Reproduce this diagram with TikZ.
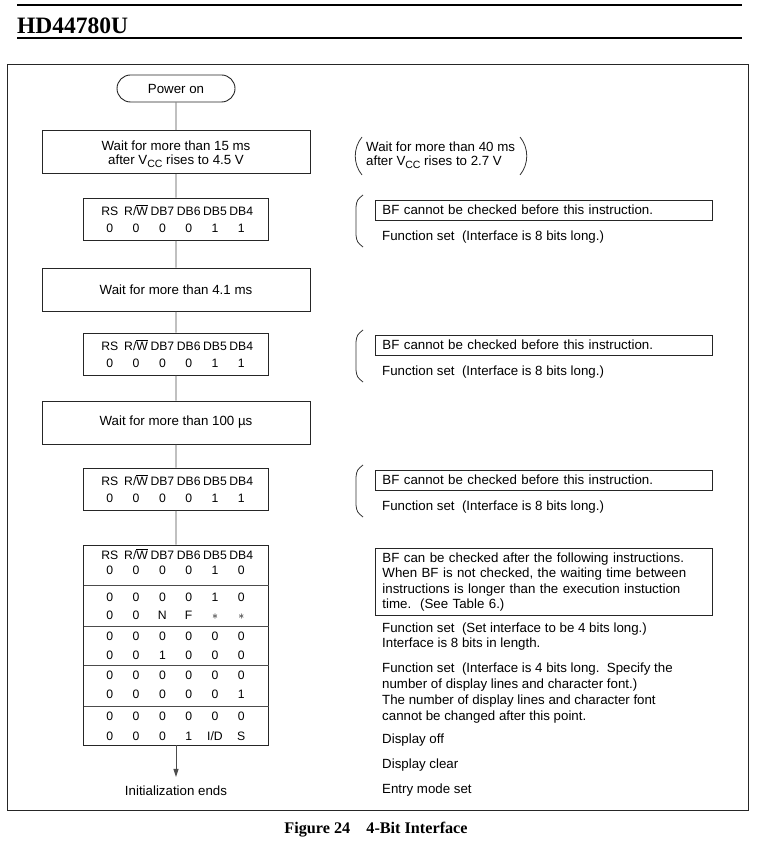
\documentclass[tikz,border=0pt]{standalone}
\usepackage{fontspec}
\setmainfont{Liberation Sans}
\newfontfamily\headfont{Liberation Serif}
\usetikzlibrary{arrows.meta}
\usetikzlibrary{shapes.misc}

\newcommand{\vcc}{V\raisebox{-3pt}{\fontsize{10.5}{10.5}\selectfont CC}}

\begin{document}
\begin{tikzpicture}[x=1pt, y=-1pt,
    txt/.style={font=\fontsize{13.3}{15.6}\selectfont, inner sep=0pt},
    cell/.style={font=\fontsize{12.2}{14}\selectfont, inner sep=0pt, text height=8.8pt, text depth=0pt},
    wbox/.style={draw=black!85, line width=0.9pt, minimum width=268pt, minimum height=43pt, txt, align=center},
    fbox/.style={draw=black!85, line width=0.9pt, minimum width=185pt, minimum height=42pt},
    note/.style={draw=black!85, line width=0.9pt, anchor=west, minimum width=337pt, minimum height=20pt, txt, inner xsep=7pt, text width=323pt, align=left},
    flow/.style={draw=black!70, line width=0.9pt},
    brk/.style={draw=black!80, line width=0.8pt}]
  \useasboundingbox (0,0) rectangle (760,866);

  % page head
  \draw[line width=2.5pt] (17,5) -- (742,5);
  \node[anchor=base west, inner sep=0pt, font=\headfont\bfseries\fontsize{23.5}{24}\selectfont] (head) at (17,34) {HD44780U};
  \draw[line width=2.5pt] (17,38) -- (742,38);
  \draw[black!85, line width=1pt] (7,65) rectangle (748,810);

  % flow
  \node[rounded rectangle, draw=black!85, line width=0.9pt, minimum width=118pt, minimum height=27pt, txt] (on) at (176,88.5) {Power on};
  \node[wbox] (w1) at (176,152) {};
  \node[txt] at (176,146) {Wait for more than 15 ms};
  \node[txt, anchor=base] at (176,164.5) {after \vcc\ rises to 4.5 V};
  \node[fbox] (f1) at (176,219) {};
  \node[wbox] (w2) at (176,289.5) {Wait for more than 4.1 ms};
  \node[fbox] (f2) at (176,354) {};
  \node[wbox] (w3) at (176,422.5) {Wait for more than 100 µs};
  \node[fbox] (f3) at (176,489) {};
  \node[fbox, minimum height=200pt] (tab) at (176,645) {};
  \node[txt] (end) at (176,791) {Initialization ends};

  \draw[flow] (on) -- (w1) -- (f1) -- (w2) -- (f2) -- (w3) -- (f3) -- (tab);
  \draw[flow, -{Triangle[length=8pt, width=5pt]}, shorten >=9pt] (tab) -- (end);

  % bit tables
  \foreach \y in {211,346,481,555} {
    \foreach \h [count=\i] in {RS, R/$\overline{\hbox{W}}$, DB7, DB6, DB5, DB4}
      \node[cell] at ({83.5+26.3*\i},\y) {\h};
  }
  \foreach \y/\row in {228/{0,0,0,0,1,1}, 363/{0,0,0,0,1,1}, 498/{0,0,0,0,1,1},
      570/{0,0,0,0,1,0}, 597/{0,0,0,0,1,0}, 615/{0,0,N,F,$\ast$,$\ast$},
      636/{0,0,0,0,0,0}, 655/{0,0,1,0,0,0}, 675/{0,0,0,0,0,0},
      694/{0,0,0,0,0,1}, 716/{0,0,0,0,0,0}, 736/{0,0,0,1,I/D,S}}
    \foreach \v [count=\i] in \row
      \node[cell] at ({83.5+26.3*\i},\y) {\v};
  \foreach \s in {585,626,665,706}
    \draw[flow] (83.5,\s) -- (268.5,\s);

  % notes
  \node[txt, anchor=west] (n0) at (366,147) {Wait for more than 40 ms};
  \node[txt, anchor=base west] (n1) at (366,165.5) {after \vcc\ rises to 2.7 V};
  \draw[brk] (362,137) .. controls (353,148) and (353,164) .. (362,175);
  \draw[brk] (520,137) .. controls (529,148) and (529,164) .. (520,175);

  \node[note] (bf1) at (375,210) {BF cannot be checked before this instruction.};
  \node[txt, anchor=base west] (fs1) at (382,240.5) {Function set\ \ (Interface is 8 bits long.)};
  \node[note] (bf2) at (375,345) {BF cannot be checked before this instruction.};
  \node[txt, anchor=base west] (fs2) at (382,375.5) {Function set\ \ (Interface is 8 bits long.)};
  \node[note] (bf3) at (375,480) {BF cannot be checked before this instruction.};
  \node[txt, anchor=base west] (fs3) at (382,510.5) {Function set\ \ (Interface is 8 bits long.)};
  \foreach \t in {195,330,465}
    \draw[brk] (363,\t) .. controls (357,\t+5) .. (356,\t+12) -- (356,\t+40) .. controls (357,\t+47) .. (363,\t+52);

  \node[note, anchor=north west, minimum height=67pt, font=\fontsize{13.3}{15.4}\selectfont] (bf4) at (375,548) {BF can be checked after the following instructions.\\When BF is not checked, the waiting time between\\instructions is longer than the execution instuction\\time.\ \ (See Table 6.)};
  \node[txt, anchor=base west, align=left] (fs4) at (382,647.8) {Function set\ \ (Set interface to be 4 bits long.)\\[-0.6pt]Interface is 8 bits in length.};
  \node[txt, anchor=base west, align=left] (fs5) at (382,720.8) {Function set\ \ (Interface is 4 bits long.\ \ Specify the\\[0.4pt]number of display lines and character font.)\\[0.4pt]The number of display lines and character font\\[0.4pt]cannot be changed after this point.};
  \node[txt, anchor=base west] (off) at (382,743.8) {Display off};
  \node[txt, anchor=base west] (clr) at (382,768.8) {Display clear};
  \node[txt, anchor=base west] (ems) at (382,793.8) {Entry mode set};

  \node[font=\headfont\bfseries\fontsize{16.2}{16}\selectfont] (cap) at (376,830) {Figure 24\quad 4-Bit Interface};
\end{tikzpicture}
\end{document}
